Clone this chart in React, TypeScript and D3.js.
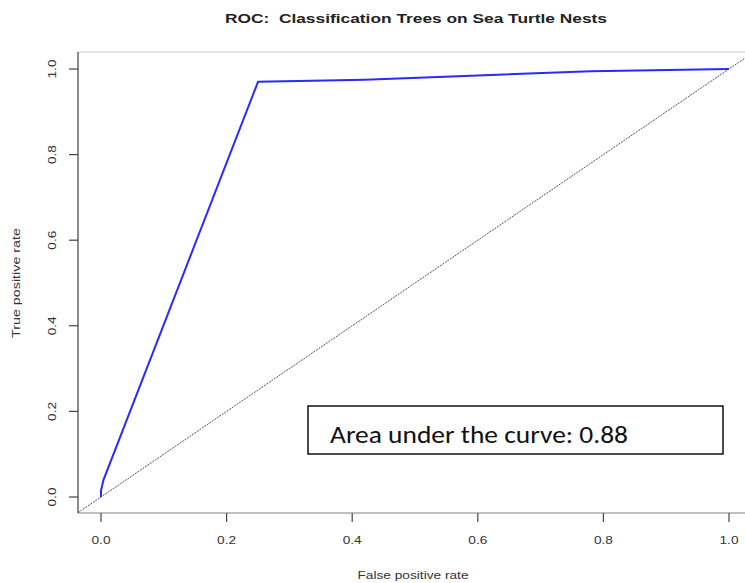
import * as d3 from 'd3';

const fpr = [0, 0, 0.004, 0.25, 0.42, 0.6, 0.78, 1.0];
const tpr = [0, 0.015, 0.04, 0.97, 0.975, 0.985, 0.995, 1.0];
const xTicks = [0, 0.2, 0.4, 0.6, 0.8, 1.0];
const yTicks = [0, 0.2, 0.4, 0.6, 0.8, 1.0];
const title = 'ROC:  Classification Trees on Sea Turtle Nests';
const aucLabel = 'Area under the curve: 0.88';

export default function App() {
  const W = 745;
  const H = 583;
  const left = 78;
  const bottom = 513;
  const top = 52;

  const x = d3.scaleLinear().domain([0, 1]).range([101, 729]);
  const y = d3.scaleLinear().domain([0, 1]).range([497, 69]);

  const line = d3
    .line<number>()
    .x((_, i) => x(fpr[i]))
    .y((d) => y(d));

  const axisFont = 'Liberation Sans, Arial, sans-serif';

  // diagonal spans the plot region
  const d0 = x.invert(left);
  const d1 = x.invert(W);

  return (
    <svg
      width={W}
      height={H}
      style={{ position: 'absolute', left: 0, top: 0, background: '#fff' }}
    >
      <text
        x={416}
        y={23}
        textAnchor="middle"
        fontFamily={axisFont}
        fontWeight="bold"
        fontSize={13}
        fill="#222"
        textLength={382}
        lengthAdjust="spacingAndGlyphs"
        style={{ whiteSpace: 'pre' }}
      >
        {title}
      </text>

      {/* frame */}
      <line x1={left} x2={W} y1={top} y2={top} stroke="#ddd" strokeWidth={1.5} />
      <line x1={left} x2={left} y1={top} y2={bottom} stroke="#666" strokeWidth={1.5} />
      <line x1={left} x2={W} y1={bottom} y2={bottom} stroke="#aaa" strokeWidth={1.5} />

      {/* diagonal */}
      <line
        x1={x(d0)}
        y1={y(d0)}
        x2={x(d1)}
        y2={y(d1)}
        stroke="#555"
        strokeWidth={1}
        strokeDasharray="2,1"
      />

      <path d={line(tpr) || ''} fill="none" stroke="#2a2aff" strokeWidth={2} />

      {/* y axis */}
      {yTicks.map((t) => (
        <g key={'y' + t}>
          <line x1={69} x2={left} y1={y(t)} y2={y(t)} stroke="#444" strokeWidth={1.2} />
          <text
            transform={`translate(56,${y(t)}) rotate(-90)`}
            textAnchor="middle"
            fontFamily={axisFont}
            fontSize={11}
            fill="#333"
            textLength={19}
            lengthAdjust="spacingAndGlyphs"
          >
            {t.toFixed(1)}
          </text>
        </g>
      ))}

      {/* x axis */}
      {xTicks.map((t) => (
        <g key={'x' + t}>
          <line x1={x(t)} x2={x(t)} y1={bottom} y2={522} stroke="#444" strokeWidth={1.2} />
          <text
            x={x(t)}
            y={544}
            textAnchor="middle"
            fontFamily={axisFont}
            fontSize={11}
            fill="#333"
            textLength={19}
            lengthAdjust="spacingAndGlyphs"
          >
            {t.toFixed(1)}
          </text>
        </g>
      ))}

      <text
        x={413}
        y={579}
        textAnchor="middle"
        fontFamily={axisFont}
        fontSize={11.5}
        fill="#333"
        textLength={111}
        lengthAdjust="spacingAndGlyphs"
      >
        False positive rate
      </text>
      <text
        transform={`translate(20,${283}) rotate(-90)`}
        textAnchor="middle"
        fontFamily={axisFont}
        fontSize={11.5}
        fill="#333"
        textLength={110}
        lengthAdjust="spacingAndGlyphs"
      >
        True positive rate
      </text>

      {/* annotation */}
      <rect x={308} y={406} width={415} height={48} fill="#fff" stroke="#111" strokeWidth={1.5} />
      <text
        x={330}
        y={443}
        fontFamily="Carlito, Calibri, 'Open Sans', sans-serif"
        fontSize={24}
        fill="#111"
        textLength={298}
        lengthAdjust="spacingAndGlyphs"
      >
        {aucLabel}
      </text>
    </svg>
  );
}
